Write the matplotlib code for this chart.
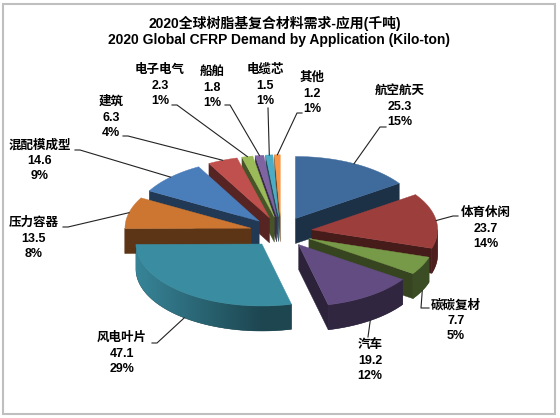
import numpy as np
import matplotlib
matplotlib.use("Agg")
import matplotlib.pyplot as plt
from matplotlib.patches import Polygon, Rectangle
from matplotlib.colors import to_rgb

plt.rcParams['font.family'] = ['Liberation Sans', 'Noto Sans CJK SC', 'DejaVu Sans']

# data, clockwise from 12 o'clock
names = ['航空航天', '体育休闲', '碳碳复材', '汽车', '风电叶片', '压力容器',
         '混配模成型', '建筑', '电子电气', '船舶', '电缆芯', '其他']
values = [25.3, 23.7, 7.7, 19.2, 47.1, 13.5, 14.6, 6.3, 2.3, 1.8, 1.5, 1.2]
colors = ['#3E6A9C', '#9C3E3B', '#779A48', '#624C81', '#3A8CA0', '#CC7632',
          '#4A7EBB', '#C0504D', '#9BBB59', '#8064A2', '#4BACC6', '#F79646']

title_cn = '2020全球树脂基复合材料需求-应用(千吨)'
title_en = '2020 Global CFRP Demand by Application (Kilo-ton)'

# label layout: centre of first line, and where the leader leaves the label
label_xy = [(400, 91), (486, 213), (456, 305), (370, 345), (122, 338), (34, 223),
            (40, 145), (111, 102), (160, 70), (212, 72), (265, 70), (312, 78)]
leader_from = [
    [(386, 127), (380, 127)],
    [(458, 216), (453, 216)],
    [(429, 308), (421, 308)],
    [(368, 337)],
    [(152, 343), (157, 343)],
    [(63, 227), (68, 227)],
    [(75, 150), (80, 150)],
    [(123, 136), (128, 136)],
    [(172, 105), (177, 105)],
    [(225, 105), (230, 105)],
    [(268, 108)],
    [(302, 113), (297, 113)],
]

# 3d pie geometry (pixels)
CX, CY = 281, 232
RX, RY = 126, 62
DEPTH = 25
EXPLODE = 31

total = sum(values)
fracs = np.array(values) / total
bounds = np.concatenate([[0], np.cumsum(fracs)]) * 360
mids = (bounds[:-1] + bounds[1:]) / 2


def pt(vx, vy, ang):
    t = np.radians(ang)
    return vx + RX * np.sin(t), vy - RY * np.cos(t)


def shade(c, f):
    return tuple(np.clip(np.array(to_rgb(c)) * f, 0, 1))


fig = plt.figure(figsize=(5.6, 4.18), dpi=100)
ax = fig.add_axes([0, 0, 1, 1])
ax.axis('off')

ax.add_patch(Rectangle((3, 4), 552, 410, fc='white', ec='#BFBFBF', lw=1.5, zorder=0))

vert = {}
order = np.argsort(-np.cos(np.radians(mids)))
for rank, i in enumerate(order):
    z = 2 + rank * 0.01
    a0, a1, am = bounds[i], bounds[i + 1], mids[i]
    vx = CX + EXPLODE * np.sin(np.radians(am))
    vy = CY - EXPLODE * RY / RX * np.cos(np.radians(am))
    vert[i] = (vx, vy)
    col = colors[i]
    n = max(2, int(np.ceil((a1 - a0) / 2))) + 1
    angs = np.linspace(a0, a1, n)
    # cut faces
    for ang, nrm in ((a0, a0 - 90), (a1, a1 + 90)):
        if np.cos(np.radians(nrm)) < 0:
            x1, y1 = pt(vx, vy, ang)
            poly = [(vx, vy), (x1, y1), (x1, y1 + DEPTH), (vx, vy + DEPTH)]
            c = shade(col, 0.45)
            ax.add_patch(Polygon(poly, closed=True, fc=c, ec=c, lw=0.3, zorder=z))
    # outer rim, front half only, shaded left-to-right
    lo, hi = max(a0, 90), min(a1, 270)
    if hi > lo:
        ra = np.linspace(lo, hi, max(3, int(hi - lo) + 1))
        rim = [pt(vx, vy, a) for a in ra]
        poly = rim + [(x, y + DEPTH) for x, y in reversed(rim)]
        xs_ = [p[0] for p in poly]
        ys_ = [p[1] for p in poly]
        x_min, x_max = min(xs_), max(xs_)
        y_min, y_max = min(ys_), max(ys_)
        base = Polygon(poly, closed=True, fc=shade(col, 0.5), ec=shade(col, 0.5),
                       lw=0.3, zorder=z)
        ax.add_patch(base)
        gx = np.linspace(x_min, x_max, 200)
        f = 0.5 + 0.45 * np.clip((vx - gx) / RX, 0, None)
        img = np.clip(f[None, :, None] * np.array(to_rgb(col))[None, None, :], 0, 1)
        img = np.repeat(img, 2, axis=0)
        im = ax.imshow(img, extent=(x_min, x_max, y_max, y_min), aspect='auto',
                       interpolation='bilinear', zorder=z)
        im.set_clip_path(base)
    # top face
    top = [(vx, vy)] + [pt(vx, vy, a) for a in angs]
    ax.add_patch(Polygon(top, closed=True, fc=col, ec=col, lw=0.3, zorder=z))

# labels and leader lines
for i in range(len(values)):
    x, y = label_xy[i]
    pct = '%d%%' % round(values[i] / total * 100)
    for k, s in enumerate([names[i], '%.1f' % values[i], pct]):
        ax.text(x, y + [0, 16, 31][k], s, ha='center', va='center',
                fontsize=9, fontweight='bold', color='black', zorder=5)
    vx, vy = vert[i]
    ex, ey = pt(vx, vy, mids[i])
    if np.cos(np.radians(mids[i])) < 0:
        ey += DEPTH
    pts = leader_from[i] + [(ex, ey)]
    ax.plot([p[0] for p in pts], [p[1] for p in pts], color='#222222', lw=0.8, zorder=4)

ax.text(275, 23, title_cn, ha='center', va='center', fontsize=10, fontweight='bold')
ax.text(279, 40, title_en, ha='center', va='center', fontsize=10, fontweight='bold')

ax.set_xlim(0, 560)
ax.set_ylim(418, 0)

fig.savefig('out.png', dpi=100)
